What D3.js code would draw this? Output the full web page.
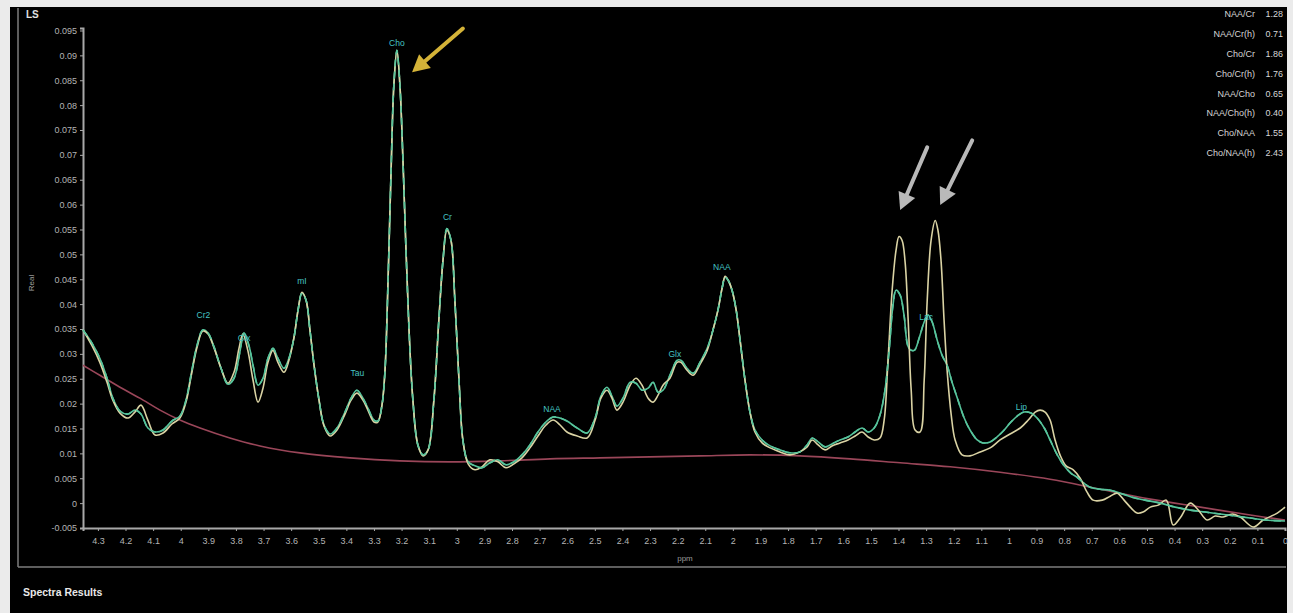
<!DOCTYPE html>
<html>
<head>
<meta charset="utf-8">
<script src="https://cdn.jsdelivr.net/npm/d3@7"></script>
<style>
body { margin: 0; background: #000; overflow: hidden; }
text { font-family: "Liberation Sans", Arial, sans-serif; }
</style>
</head>
<body>
<div id="chart"></div>
<script>
// ---- data (ppm, amplitude) ----
var fitPpm = [4.354,4.322,4.293,4.267,4.246,4.220,4.191,4.166,4.144,4.119,4.093,4.064,4.032,4.003,3.981,3.963,3.941,3.920,3.901,3.880,3.854,3.829,3.807,3.786,3.771,3.753,3.738,3.720,3.702,3.684,3.666,3.648,3.626,3.608,3.590,3.575,3.561,3.546,3.532,3.517,3.499,3.481,3.459,3.434,3.405,3.383,3.362,3.340,3.322,3.300,3.286,3.271,3.260,3.249,3.238,3.228,3.217,3.206,3.195,3.184,3.173,3.159,3.141,3.122,3.104,3.083,3.065,3.050,3.036,3.021,3.007,2.992,2.978,2.959,2.934,2.909,2.880,2.851,2.822,2.793,2.764,2.735,2.706,2.677,2.651,2.626,2.601,2.564,2.528,2.499,2.478,2.456,2.438,2.420,2.398,2.372,2.351,2.329,2.307,2.289,2.271,2.253,2.228,2.202,2.188,2.166,2.144,2.119,2.093,2.072,2.054,2.039,2.028,2.017,2.003,1.988,1.974,1.956,1.938,1.920,1.894,1.865,1.829,1.793,1.757,1.731,1.713,1.691,1.666,1.641,1.612,1.583,1.557,1.532,1.510,1.488,1.467,1.449,1.434,1.420,1.409,1.394,1.380,1.362,1.343,1.325,1.307,1.293,1.278,1.260,1.242,1.224,1.206,1.188,1.162,1.141,1.115,1.094,1.068,1.043,1.017,0.996,0.970,0.945,0.920,0.898,0.872,0.851,0.825,0.800,0.775,0.753,0.728,0.706,0.670,0.633,0.597,0.554,0.507,0.452,0.398,0.343,0.289,0.235,0.180,0.126,0.072,0.000];
var fitVal = [0.0348,0.0322,0.0291,0.0251,0.0211,0.0185,0.0179,0.0187,0.0179,0.0151,0.0143,0.0147,0.0165,0.0175,0.0207,0.0257,0.0317,0.0348,0.0342,0.0315,0.0271,0.0239,0.0251,0.0303,0.0342,0.0317,0.0277,0.0237,0.0251,0.0291,0.0311,0.0291,0.0271,0.0291,0.0332,0.0388,0.0422,0.0408,0.0348,0.0277,0.0207,0.0157,0.0139,0.0151,0.0183,0.0211,0.0227,0.0211,0.0191,0.0167,0.0165,0.0197,0.0267,0.0448,0.0669,0.0840,0.0910,0.0840,0.0689,0.0508,0.0348,0.0207,0.0117,0.0097,0.0107,0.0207,0.0368,0.0488,0.0552,0.0528,0.0408,0.0247,0.0127,0.0083,0.0075,0.0071,0.0081,0.0087,0.0077,0.0083,0.0097,0.0117,0.0143,0.0163,0.0173,0.0171,0.0165,0.0151,0.0141,0.0171,0.0215,0.0233,0.0215,0.0195,0.0211,0.0243,0.0241,0.0227,0.0231,0.0243,0.0223,0.0227,0.0257,0.0287,0.0287,0.0271,0.0261,0.0283,0.0311,0.0348,0.0388,0.0432,0.0454,0.0448,0.0428,0.0388,0.0328,0.0247,0.0183,0.0147,0.0127,0.0115,0.0107,0.0101,0.0103,0.0117,0.0131,0.0123,0.0113,0.0119,0.0127,0.0133,0.0143,0.0151,0.0143,0.0151,0.0177,0.0227,0.0307,0.0398,0.0428,0.0418,0.0378,0.0311,0.0307,0.0332,0.0364,0.0378,0.0364,0.0328,0.0297,0.0277,0.0243,0.0213,0.0171,0.0147,0.0127,0.0121,0.0123,0.0133,0.0147,0.0161,0.0175,0.0183,0.0181,0.0171,0.0151,0.0127,0.0097,0.0075,0.0060,0.0052,0.0040,0.0032,0.0028,0.0026,0.0020,0.0012,0.0006,0.0000,-0.0008,-0.0014,-0.0018,-0.0022,-0.0026,-0.0030,-0.0034,-0.0036];

var specPpm = [4.354,4.322,4.293,4.267,4.246,4.220,4.191,4.166,4.144,4.119,4.093,4.064,4.032,4.003,3.981,3.963,3.941,3.920,3.901,3.880,3.854,3.829,3.807,3.789,3.775,3.757,3.738,3.720,3.702,3.684,3.666,3.648,3.626,3.608,3.590,3.575,3.561,3.546,3.532,3.517,3.499,3.481,3.459,3.434,3.405,3.383,3.362,3.340,3.322,3.300,3.286,3.271,3.260,3.249,3.238,3.228,3.217,3.206,3.195,3.184,3.173,3.159,3.141,3.122,3.104,3.083,3.065,3.050,3.036,3.021,3.007,2.992,2.978,2.959,2.934,2.909,2.880,2.851,2.822,2.793,2.764,2.735,2.706,2.677,2.651,2.626,2.601,2.564,2.528,2.499,2.478,2.456,2.438,2.420,2.398,2.372,2.351,2.329,2.307,2.289,2.271,2.253,2.228,2.202,2.188,2.166,2.144,2.119,2.093,2.072,2.054,2.039,2.028,2.017,2.003,1.988,1.974,1.956,1.938,1.920,1.894,1.865,1.829,1.793,1.757,1.731,1.713,1.691,1.666,1.641,1.612,1.583,1.557,1.532,1.510,1.488,1.467,1.452,1.438,1.423,1.409,1.398,1.387,1.376,1.365,1.354,1.340,1.322,1.307,1.296,1.282,1.267,1.257,1.246,1.235,1.224,1.209,1.195,1.170,1.141,1.104,1.068,1.032,0.996,0.959,0.930,0.905,0.887,0.869,0.851,0.833,0.815,0.793,0.767,0.742,0.717,0.695,0.662,0.633,0.608,0.583,0.557,0.536,0.514,0.488,0.459,0.430,0.405,0.380,0.343,0.314,0.282,0.253,0.224,0.191,0.162,0.115,0.079,0.028,0.000];
var specVal = [0.0348,0.0317,0.0283,0.0243,0.0207,0.0181,0.0171,0.0183,0.0197,0.0167,0.0137,0.0141,0.0159,0.0171,0.0203,0.0253,0.0313,0.0346,0.0340,0.0313,0.0271,0.0241,0.0263,0.0311,0.0340,0.0307,0.0247,0.0203,0.0231,0.0283,0.0307,0.0283,0.0263,0.0287,0.0332,0.0388,0.0424,0.0408,0.0348,0.0277,0.0207,0.0155,0.0135,0.0147,0.0179,0.0207,0.0221,0.0207,0.0187,0.0163,0.0163,0.0197,0.0267,0.0448,0.0669,0.0840,0.0910,0.0840,0.0689,0.0508,0.0348,0.0207,0.0117,0.0095,0.0107,0.0207,0.0368,0.0488,0.0548,0.0528,0.0408,0.0247,0.0127,0.0079,0.0067,0.0073,0.0087,0.0083,0.0071,0.0079,0.0091,0.0111,0.0135,0.0157,0.0167,0.0157,0.0143,0.0135,0.0131,0.0167,0.0211,0.0227,0.0211,0.0187,0.0203,0.0237,0.0251,0.0237,0.0211,0.0203,0.0217,0.0237,0.0251,0.0283,0.0283,0.0267,0.0257,0.0279,0.0307,0.0348,0.0388,0.0432,0.0456,0.0448,0.0428,0.0388,0.0328,0.0247,0.0183,0.0143,0.0121,0.0111,0.0103,0.0097,0.0103,0.0113,0.0127,0.0117,0.0107,0.0115,0.0121,0.0127,0.0135,0.0143,0.0133,0.0127,0.0131,0.0167,0.0287,0.0428,0.0508,0.0536,0.0528,0.0484,0.0368,0.0227,0.0147,0.0143,0.0247,0.0408,0.0528,0.0568,0.0548,0.0488,0.0368,0.0267,0.0177,0.0127,0.0097,0.0095,0.0103,0.0111,0.0127,0.0139,0.0151,0.0167,0.0183,0.0187,0.0183,0.0167,0.0127,0.0097,0.0075,0.0067,0.0050,0.0022,0.0006,0.0006,0.0014,0.0020,0.0006,-0.0010,-0.0020,-0.0018,-0.0008,-0.0004,0.0006,-0.0044,-0.0030,0.0000,-0.0014,-0.0034,-0.0026,-0.0028,-0.0022,-0.0028,-0.0048,-0.0034,-0.0020,-0.0008];

var basePpm = [4.354,4.293,4.220,4.148,4.075,4.003,3.930,3.822,3.713,3.568,3.387,3.206,3.025,2.843,2.662,2.481,2.300,2.119,1.938,1.757,1.575,1.394,1.213,1.032,0.851,0.670,0.488,0.307,0.126,0.000];
var baseVal = [0.0277,0.0257,0.0233,0.0211,0.0187,0.0167,0.0151,0.0131,0.0115,0.0101,0.0091,0.0085,0.0083,0.0085,0.0089,0.0091,0.0093,0.0095,0.0097,0.0095,0.0089,0.0081,0.0073,0.0062,0.0048,0.0028,0.0008,-0.0008,-0.0024,-0.0034];

// peak labels (text position in ppm / amplitude)
var peakNames = ["Cr2", "Glx", "mI", "Tau", "Cho", "Cr", "NAA", "Glx", "NAA", "Lac", "Lip"];
var peakPpm = [3.918, 3.770, 3.561, 3.360, 3.217, 3.034, 2.655, 2.210, 2.040, 1.300, 0.955];
var peakVal = [0.0376, 0.0330, 0.0444, 0.0261, 0.0924, 0.0573, 0.0187, 0.0299, 0.0474, 0.0372, 0.0191];

// ratio table
var ratioNames = ["NAA/Cr", "NAA/Cr(h)", "Cho/Cr", "Cho/Cr(h)", "NAA/Cho", "NAA/Cho(h)", "Cho/NAA", "Cho/NAA(h)"];
var ratioValues = ["1.28", "0.71", "1.86", "1.76", "0.65", "0.40", "1.55", "2.43"];

// axis ticks
var xTicks = [4.3,4.2,4.1,4,3.9,3.8,3.7,3.6,3.5,3.4,3.3,3.2,3.1,3,2.9,2.8,2.7,2.6,2.5,2.4,2.3,2.2,2.1,2,1.9,1.8,1.7,1.6,1.5,1.4,1.3,1.2,1.1,1,0.9,0.8,0.7,0.6,0.5,0.4,0.3,0.2,0.1,0];
var yTicks = [-0.005,0,0.005,0.01,0.015,0.02,0.025,0.03,0.035,0.04,0.045,0.05,0.055,0.06,0.065,0.07,0.075,0.08,0.085,0.09,0.095];

// annotation arrows: [tailPpm, tailVal, tipPpm, tipVal]
var arrowTail = [[2.978, 0.0954], [1.296, 0.0715], [1.133, 0.0729]];
var arrowTip = [[3.162, 0.0866], [1.394, 0.0589], [1.249, 0.0599]];
var arrowColor = ["#d4b338", "#b9b9b9", "#b9b9b9"];

// ---- page ----
var width = 1293, height = 613;

var svg = d3.select("#chart")
  .append("svg")
  .attr("width", width)
  .attr("height", height);

svg.append("rect").attr("width", width).attr("height", height).attr("fill", "#ebebeb");
svg.append("rect").attr("x", 10).attr("y", 7).attr("width", 1277).attr("height", 606).attr("fill", "#000");

// inner frame
svg.append("line").attr("x1", 18).attr("x2", 18).attr("y1", 8).attr("y2", 567)
  .attr("stroke", "#7d7d7d").attr("stroke-width", 1.5);
svg.append("line").attr("x1", 18).attr("x2", 1286).attr("y1", 567).attr("y2", 567)
  .attr("stroke", "#7d7d7d").attr("stroke-width", 1.5);

// scales
var xScale = d3.scaleLinear().domain([4.354, 0]).range([83, 1285]);
var yScale = d3.scaleLinear().domain([-0.005, 0.0955]).range([528, 28]);

var xAxis = d3.axisBottom(xScale).tickValues(xTicks).tickSize(3).tickPadding(7)
  .tickFormat(function(d) { return String(+d.toFixed(1)); });
var yAxis = d3.axisLeft(yScale).tickValues(yTicks).tickSize(3).tickPadding(3)
  .tickFormat(function(d) { return String(+d.toFixed(3)); });

var gx = svg.append("g").attr("transform", "translate(0," + 528 + ")").call(xAxis);
var gy = svg.append("g").attr("transform", "translate(" + 83 + ",0)").call(yAxis);

[gx, gy].forEach(function(g) {
  g.select(".domain").attr("stroke", "#a8a8a8").attr("stroke-width", 2);
  g.selectAll(".tick line").attr("stroke", "#a8a8a8");
  g.selectAll(".tick text").attr("fill", "#b4b4b4").style("font-size", "9px");
});

svg.append("text").attr("x", 685).attr("y", 561).attr("text-anchor", "middle")
  .attr("fill", "#9a9a9a").style("font-size", "8px").text("ppm");

svg.append("text").attr("x", 26).attr("y", 18)
  .attr("fill", "#e0e0e0").style("font-size", "10px").style("font-weight", "bold").text("LS");

svg.append("text").attr("transform", "translate(34,283) rotate(-90)").attr("text-anchor", "middle")
  .attr("fill", "#a0a0a0").style("font-size", "8px").text("Real");

svg.append("text").attr("x", 23).attr("y", 596)
  .attr("fill", "#e8e8e8").style("font-size", "10.5px").style("font-weight", "bold").text("Spectra Results");

// ---- spectra ----
var line = d3.line()
  .x(function(d) { return xScale(d[0]); })
  .y(function(d) { return yScale(d[1]); })
  .curve(d3.curveCatmullRom.alpha(0.5));

var fitData = d3.zip(fitPpm, fitVal);
var specData = d3.zip(specPpm, specVal);
var baseData = d3.zip(basePpm, baseVal);

svg.append("path").attr("d", line(baseData)).attr("fill", "none")
  .attr("stroke", "#9a4659").attr("stroke-width", 1.6);

svg.append("path").attr("d", line(fitData)).attr("fill", "none")
  .attr("stroke", "#57c49c").attr("stroke-width", 1.6);

svg.append("path").attr("d", line(specData)).attr("fill", "none")
  .attr("stroke", "#dad3a4").attr("stroke-width", 1.6);

svg.append("path").attr("d", line(fitData)).attr("fill", "none")
  .attr("stroke", "#57c49c").attr("stroke-width", 1.6)
  .attr("stroke-dasharray", "7,5");

// peak labels
svg.selectAll(".peak")
  .data(d3.range(peakNames.length))
  .enter()
  .append("text")
  .attr("class", "peak")
  .attr("x", function(i) { return xScale(peakPpm[i]); })
  .attr("y", function(i) { return yScale(peakVal[i]); })
  .attr("text-anchor", "middle")
  .attr("dominant-baseline", "middle")
  .attr("fill", "#45c4c4")
  .style("font-size", "8.5px")
  .text(function(i) { return peakNames[i]; });

// arrows
arrowTail.forEach(function(t, i) {
  var sx = xScale(t[0]), sy = yScale(t[1]);
  var tx = xScale(arrowTip[i][0]), ty = yScale(arrowTip[i][1]);
  var len = Math.hypot(tx - sx, ty - sy);
  var ux = (tx - sx) / len, uy = (ty - sy) / len;
  var bx = tx - ux * 17, by = ty - uy * 17;
  var nx = -uy, ny = ux;
  svg.append("line").attr("x1", sx).attr("y1", sy).attr("x2", bx + ux * 2).attr("y2", by + uy * 2)
    .attr("stroke", arrowColor[i]).attr("stroke-width", 4).attr("stroke-linecap", "round");
  svg.append("polygon")
    .attr("points", [[tx, ty], [bx + nx * 9, by + ny * 9], [bx - nx * 9, by - ny * 9]].map(function(p) { return p.join(","); }).join(" "))
    .attr("fill", arrowColor[i]);
});

// ratio table
var table = svg.append("g");
table.selectAll(".rname")
  .data(ratioNames)
  .enter()
  .append("text")
  .attr("x", 1255)
  .attr("y", function(d, i) { return 15 + i * 19.8; })
  .attr("text-anchor", "end")
  .attr("dominant-baseline", "middle")
  .attr("fill", "#d6d6d6")
  .style("font-size", "9px")
  .text(function(d) { return d; });
table.selectAll(".rval")
  .data(ratioValues)
  .enter()
  .append("text")
  .attr("x", 1283)
  .attr("y", function(d, i) { return 15 + i * 19.8; })
  .attr("text-anchor", "end")
  .attr("dominant-baseline", "middle")
  .attr("fill", "#d6d6d6")
  .style("font-size", "9px")
  .text(function(d) { return d; });
</script>
</body>
</html>
